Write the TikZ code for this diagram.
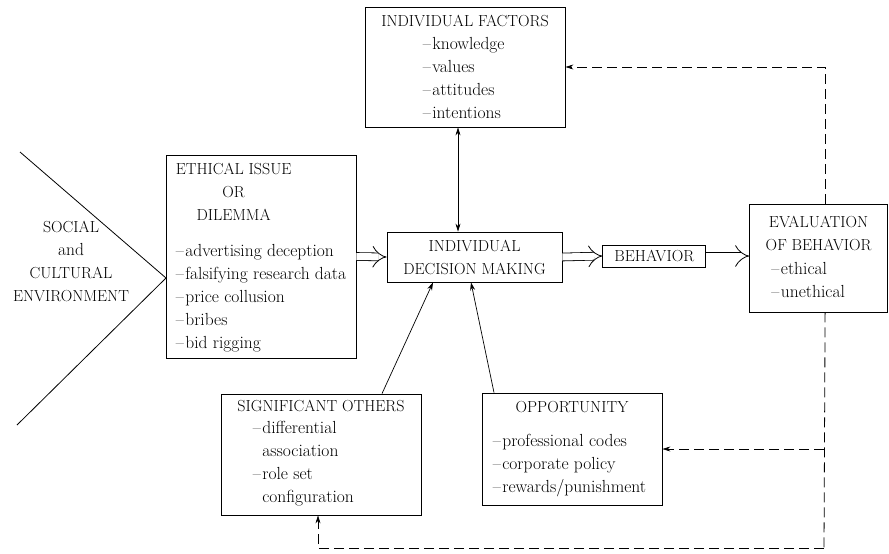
\documentclass[tikz,border=0pt]{standalone}
\usepackage{tikz}
\usetikzlibrary{arrows.meta, positioning}
\tikzstyle{box} = [rectangle, draw=black, line width=0.8pt, inner sep=0pt, font=\fontsize{16}{23}\selectfont, align=center]
\tikzstyle{head} = [inner sep=0pt, font=\fontsize{16}{23}\selectfont]
\tikzstyle{txt} = [inner sep=0pt, font=\fontsize{17.5}{23}\selectfont]
\tikzstyle{arrow} = [line width=0.7pt, >={Stealth[length=8pt,width=5pt]}, ->]
\tikzstyle{flow} = [double, double distance=7pt, line width=0.8pt, -{Implies[length=9pt, width=24pt]}]
\tikzstyle{feedback} = [line width=0.8pt, dash pattern=on 10pt off 5pt]

\begin{document}
\begin{tikzpicture}[x=1pt, y=-1pt]
    \useasboundingbox (0,0) rectangle (889,554);

    % Social and cultural environment
    \coordinate (apex) at (166,278);
    \draw [line width=0.8pt] (20,152) -- (apex) -- (17,425);
    \node (social) [head, align=center] at (71,261) {SOCIAL\\\fontsize{17.5}{23}\selectfont and\\CULTURAL\\ENVIRONMENT};

    % Ethical issue
    \node (issue) [box, minimum width=190pt, minimum height=203pt] at (261,256.5) {};
    \node (issuehead) [head, align=center, below right=8pt and 10pt of issue.north west] {ETHICAL ISSUE\\OR\\DILEMMA};
    \node (issuelist) [txt, align=left, below right=90pt and 10pt of issue.north west] {--\kern1.5pt advertising deception\\--\kern1.5pt falsifying research data\\--\kern1.5pt price collusion\\--\kern1.5pt bribes\\--\kern1.5pt bid rigging};

    % Individual factors
    \node (factors) [box, minimum width=200pt, minimum height=120pt] at (465,67) {};
    \node (factorshead) [head, below=8pt of factors.north] {INDIVIDUAL FACTORS};
    \node (factorslist) [txt, align=left, below right=31pt and 58pt of factors.north west] {--\kern1.5pt knowledge\\--\kern1.5pt values\\--\kern1.5pt attitudes\\--\kern1.5pt intentions};

    % Decision, behavior, evaluation
    \node (decision) [box, minimum width=175pt, minimum height=50pt] at (474.5,257) {INDIVIDUAL\\DECISION MAKING};
    \node (behavior) [box, minimum width=103pt, minimum height=22pt, right=40pt of decision, yshift=1pt] {BEHAVIOR};
    \node (eval) [box, minimum width=138pt, minimum height=108pt, right=43pt of behavior, yshift=-2pt] {};
    \node (evalhead) [head, align=center, below=12pt of eval.north] {EVALUATION\\OF BEHAVIOR};
    \node (evallist) [txt, align=left, below right=59pt and 22pt of eval.north west] {--\kern1.5pt ethical\\--\kern1.5pt unethical};

    % Significant others
    \node (others) [box, minimum width=200pt, minimum height=121pt] at (321,454.5) {};
    \node (othershead) [head, below=6pt of others.north] {SIGNIFICANT OTHERS};
    \node (otherslist) [txt, align=left, below right=27pt and 32pt of others.north west] {--\kern1.5pt differential\\\phantom{--\kern1.5pt}association\\--\kern1.5pt role set\\\phantom{--\kern1.5pt}configuration};

    % Opportunity
    \node (opportunity) [box, minimum width=180pt, minimum height=112pt] at (572,449) {};
    \node (opportunityhead) [head, below=9pt of opportunity.north] {OPPORTUNITY};
    \node (opportunitylist) [txt, align=left, below right=41pt and 11pt of opportunity.north west] {--\kern1.5pt professional codes\\--\kern1.5pt corporate policy\\--\kern1.5pt rewards/punishment};

    % Arrows
    \draw [flow] (issue.east) -- (decision.west);
    \draw [flow] (decision.east) -- (behavior.west);
    \draw [flow] (behavior.east) -- (behavior.east -| eval.west);
    \draw [arrow, <->] ([xshift=-7pt]factors.south) -- ([xshift=-7pt]factors.south |- decision.north);
    \draw [arrow] ([xshift=61pt]others.north) -- ([xshift=-41.5pt]decision.south);
    \draw [arrow] ([xshift=-78pt]opportunity.north) -- ([xshift=-3.5pt]decision.south);

    % Feedback loops
    \coordinate (loopend) at (824,548);
    \draw [feedback, arrow] ([xshift=6.5pt]eval.north) |- (factors.east);
    \draw [feedback] ([xshift=6.5pt]eval.south) -- (loopend);
    \draw [feedback, arrow] (loopend) -| ([xshift=-3pt]others.south);
    \draw [feedback, arrow] (loopend |- opportunity.east) -- (opportunity.east);
\end{tikzpicture}
\end{document}
